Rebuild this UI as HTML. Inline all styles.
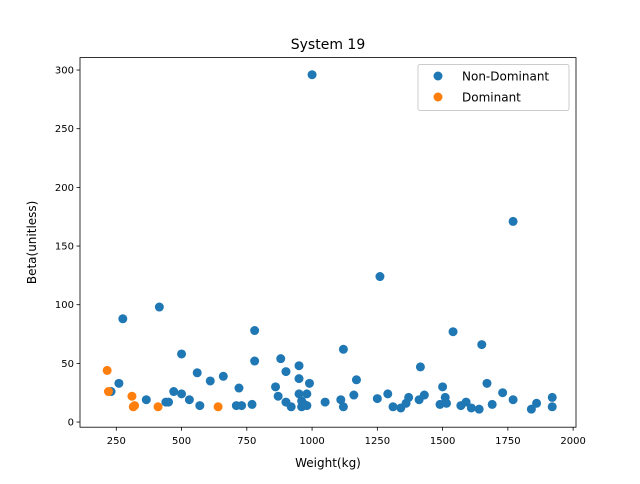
<!DOCTYPE html>
<html><head><meta charset="utf-8"><style>
body{margin:0;background:#fff;font-family:"DejaVu Sans","Liberation Sans",sans-serif;}
svg text{font-family:"DejaVu Sans","Liberation Sans",sans-serif;}
</style></head><body>
<svg id="chart" width="640" height="480" viewBox="0 0 640 480">
<rect width="640" height="480" fill="#fff"/>
</svg>
<script>
const blueX=[230,260,275,365,415,440,450,470,500,500,530,560,570,610,660,710,720,730,770,780,780,860,870,880,900,900,920,950,950,950,960,960,970,980,980,990,1000,1050,1110,1120,1120,1160,1170,1250,1260,1290,1310,1340,1360,1370,1410,1415,1430,1490,1500,1510,1515,1540,1570,1590,1610,1640,1650,1670,1690,1730,1770,1770,1840,1860,1920,1920];
const blueY=[26,33,88,19,98,17,17,26,58,24,19,42,14,35,39,14,29,14,15,78,52,30,22,54,43,17,13,48,37,24,13,18,15,24,14,33,296,17,19,62,13,23,36,20,124,24,13,12,16,21,19,47,23,15,30,21,16,77,14,17,12,11,66,33,15,25,19,171,11,16,21,13];
const orangeX=[215,220,310,320,315,410,640];
const orangeY=[44,26,22,14,13,13,13];
const xTicks=[250,500,750,1000,1250,1500,1750,2000];
const yTicks=[0,50,100,150,200,250,300];
const L=80,R=576,T=57.6,B=427.2,xmin=111,xmax=2011,ymin=-4.4,ymax=310.6;
const sx=v=>L+(v-xmin)/(xmax-xmin)*(R-L);
const sy=v=>B-(v-ymin)/(ymax-ymin)*(B-T);
const svg=document.getElementById('chart');const NS='http://www.w3.org/2000/svg';
function mk(t,a,p){const e=document.createElementNS(NS,t);for(const k in a)e.setAttribute(k,a[k]);(p||svg).appendChild(e);return e;}
xTicks.forEach(v=>{const x=sx(v);
const l=mk('line',{x1:x,x2:x,y1:B,y2:B+3.5,stroke:'#000','stroke-width':0.8});


const t=mk('text',{x:x,y:B+17,'font-size':10,'text-anchor':'middle'});t.textContent=v;

});
yTicks.forEach(v=>{const y=sy(v);
const l=mk('line',{x1:L-3.5,x2:L,y1:y,y2:y,stroke:'#000','stroke-width':0.8});


const t=mk('text',{x:L-6,y:y+3.5,'font-size':10,'text-anchor':'end'});t.textContent=v;

});
blueX.forEach((v,i)=>{const c=mk('circle',{cx:sx(v),cy:sy(blueY[i]),r:4.5,fill:'#1f77b4'});

});
orangeX.forEach((v,i)=>{const c=mk('circle',{cx:sx(v),cy:sy(orangeY[i]),r:4.5,fill:'#ff7f0e'});

});
const f=mk('rect',{x:L,y:T,width:R-L,height:B-T,fill:'none',stroke:'#000','stroke-width':0.8});


const ti=mk('text',{x:(L+R)/2,y:49,'font-size':14,'text-anchor':'middle'});ti.textContent='System 19';


const xl=mk('text',{x:(L+R)/2,y:467,'font-size':12,'text-anchor':'middle'});xl.textContent='Weight(kg)';


const yl=mk('text',{x:0,y:0,'font-size':12,'text-anchor':'middle',transform:'translate(36,'+((T+B)/2)+') rotate(-90)'});yl.textContent='Beta(unitless)';


const g=mk('g',{});


mk('rect',{x:418,y:64.5,width:151,height:46,rx:2,fill:'#fff','fill-opacity':0.8,stroke:'#ccc'},g);
[['Non-Dominant','#1f77b4',76],['Dominant','#ff7f0e',97]].forEach(([n,c,y])=>{
const e=mk('g',{},g);


mk('circle',{cx:438,cy:y,r:4.5,fill:c},e);
const t=mk('text',{x:462,y:y+4.5,'font-size':12},e);t.textContent=n;});
</script>
</body></html>
